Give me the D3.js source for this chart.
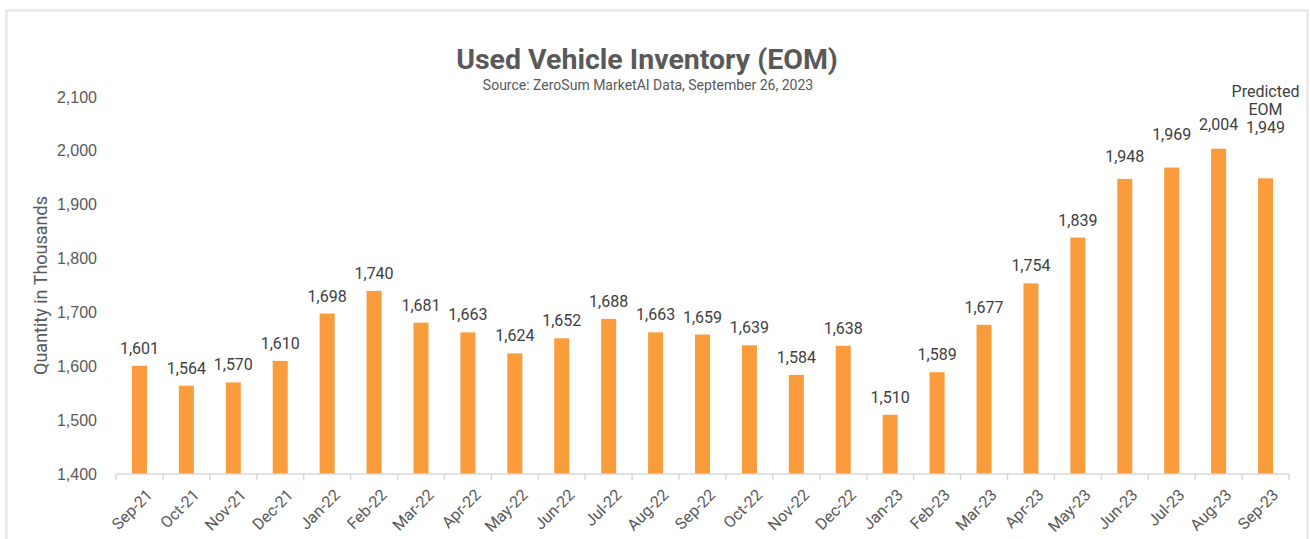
<!DOCTYPE html>
<html>
<head>
<meta charset="utf-8">
<script src="https://cdn.jsdelivr.net/npm/d3@7"></script>
<style>
  body { margin: 0; background: #fff; }
  svg { font-family: Roboto, "Open Sans", sans-serif; }
  .axis path, .axis line { stroke: #d9d9d9; }
  .axis text { fill: #595959; }
</style>
</head>
<body>
<div id="chart"></div>
<script>
const width = 1310,
  height = 539,
  margin = { top: 97, bottom: 65, left: 116, right: 21 };

const months = ["Sep-21", "Oct-21", "Nov-21", "Dec-21", "Jan-22", "Feb-22", "Mar-22", "Apr-22",
  "May-22", "Jun-22", "Jul-22", "Aug-22", "Sep-22", "Oct-22", "Nov-22", "Dec-22", "Jan-23",
  "Feb-23", "Mar-23", "Apr-23", "May-23", "Jun-23", "Jul-23", "Aug-23", "Sep-23"];
const inventory = [1601, 1564, 1570, 1610, 1698, 1740, 1681, 1663, 1624, 1652, 1688, 1663,
  1659, 1639, 1584, 1638, 1510, 1589, 1677, 1754, 1839, 1948, 1969, 2004, 1949];
const yTicks = [1400, 1500, 1600, 1700, 1800, 1900, 2000, 2100];

// labels that were dragged upward by hand in the original
const labelLift = { "Jun-23": 5, "Jul-23": 16, "Aug-23": 7, "Sep-23": 33 };

const data = months.map((m, i) => ({ month: m, value: inventory[i] }));

const svg = d3.select("#chart")
  .append("svg")
  .attr("width", width)
  .attr("height", height);

// light frame round the chart
svg.append("rect")
  .attr("x", 6.5)
  .attr("y", 10.5)
  .attr("width", 1301)
  .attr("height", 540)
  .attr("fill", "none")
  .attr("stroke", "#e4e4e4")
  .attr("stroke-width", 2);

const xScale = d3.scaleBand()
  .domain(months)
  .range([margin.left, width - margin.right])
  .paddingInner(0.68)
  .paddingOuter(0.34);

const yScale = d3.scaleLinear()
  .domain([1400, 2100])
  .range([height - margin.bottom, margin.top]);

// title
svg.append("text")
  .attr("x", 647)
  .attr("y", 69)
  .attr("text-anchor", "middle")
  .attr("font-size", 28.5)
  .attr("font-weight", "bold")
  .attr("fill", "#595959")
  .text("Used Vehicle Inventory (EOM)");

svg.append("text")
  .attr("x", 648)
  .attr("y", 90)
  .attr("text-anchor", "middle")
  .attr("font-size", 14)
  .attr("fill", "#595959")
  .text("Source: ZeroSum MarketAI Data, September 26, 2023");

// y axis (labels only)
const yAxis = d3.axisLeft(yScale)
  .tickValues(yTicks)
  .tickFormat(d3.format(","))
  .tickSize(0)
  .tickPadding(0);

svg.append("g")
  .attr("class", "axis y-axis")
  .attr("transform", `translate(${margin.left - 19},0)`)
  .call(yAxis)
  .call(g => g.select(".domain").remove())
  .selectAll("text")
  .attr("font-size", 16);

svg.append("text")
  .attr("transform", `translate(47,${(margin.top + height - margin.bottom) / 2}) rotate(-90)`)
  .attr("text-anchor", "middle")
  .attr("font-size", 18)
  .attr("fill", "#595959")
  .text("Quantity in Thousands");

// bars
svg.selectAll("rect.bar")
  .data(data)
  .join("rect")
  .attr("class", "bar")
  .attr("x", d => xScale(d.month))
  .attr("width", xScale.bandwidth())
  .attr("y", d => yScale(d.value))
  .attr("height", d => yScale(1400) - yScale(d.value))
  .attr("fill", "#fa9c3c");

// x axis with ticks at category boundaries
const step = xScale.step();
const xAxisG = svg.append("g")
  .attr("class", "axis x-axis")
  .attr("transform", `translate(0,${height - margin.bottom})`);

xAxisG.append("line")
  .attr("x1", margin.left)
  .attr("x2", width - margin.right)
  .attr("stroke-width", 1.5);

xAxisG.selectAll("line.tick")
  .data(d3.range(months.length + 1))
  .join("line")
  .attr("class", "tick")
  .attr("x1", i => margin.left + i * step)
  .attr("x2", i => margin.left + i * step)
  .attr("y1", 0)
  .attr("y2", 6)
  .attr("stroke-width", 1.5);

xAxisG.selectAll("text")
  .data(months)
  .join("text")
  .attr("transform", d => `translate(${xScale(d) + xScale.bandwidth() / 2 + 6},${14}) rotate(-45)`)
  .attr("text-anchor", "end")
  .attr("dy", "0.7em")
  .attr("font-size", 16)
  .text(d => d);

// value labels
svg.selectAll("text.value")
  .data(data)
  .join("text")
  .attr("class", "value")
  .attr("x", d => xScale(d.month) + xScale.bandwidth() / 2)
  .attr("y", d => yScale(d.value) - 12 - (labelLift[d.month] || 0))
  .attr("text-anchor", "middle")
  .attr("font-size", 16)
  .attr("fill", "#404040")
  .text(d => d3.format(",")(d.value));

// note over the last bar
const last = data[data.length - 1];
const noteX = xScale(last.month) + xScale.bandwidth() / 2;
const note = svg.append("text")
  .attr("x", noteX)
  .attr("y", yScale(last.value) - 12 - labelLift[last.month] - 36)
  .attr("text-anchor", "middle")
  .attr("font-size", 16)
  .attr("fill", "#404040");
note.append("tspan").text("Predicted");
note.append("tspan")
  .attr("x", noteX)
  .attr("dy", 18)
  .text("EOM");
</script>
</body>
</html>
